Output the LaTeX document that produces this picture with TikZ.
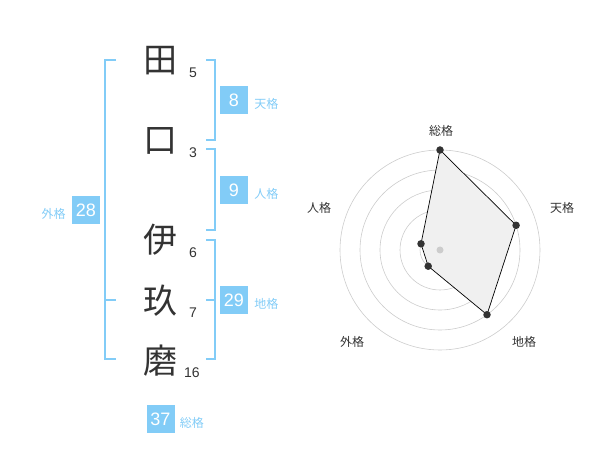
\documentclass[tikz,border=0pt]{standalone}
\usepackage{fontspec}
\setmainfont{Liberation Sans}
\newfontfamily\jp{Noto Sans CJK JP}
\usetikzlibrary{positioning}
\definecolor{kblue}{HTML}{82CCF7}
\definecolor{kgray}{HTML}{333333}
\tikzset{
  kanji/.style={text=kgray, font=\jp\fontsize{34}{34}\selectfont, inner sep=0pt},
  kaku/.style={text=kgray, font=\fontsize{14}{14}\selectfont, inner sep=0pt},
  numbox/.style={fill=kblue, text=white, minimum size=28pt, inner sep=0pt, font=\fontsize{18}{18}\selectfont},
  bluelabel/.style={text=kblue, font=\jp\fontsize{12}{12}\selectfont, inner sep=0pt, yshift=-4pt},
  bracket/.style={draw=kblue, line width=1.8pt},
  ring/.style={draw=black!20, line width=0.6pt},
  axislabel/.style={text=kgray, font=\jp\fontsize{12}{12}\selectfont, inner sep=0pt},
  dot/.style={circle, fill=kgray, inner sep=0pt, minimum size=7.5pt},
}
\begin{document}
\begin{tikzpicture}[x=1pt, y=-1pt]
        \useasboundingbox (0, 0) rectangle (600, 470);
        \node [kanji] (K1) at (160, 61)  {田};
        \node [kanji] (K2) at (160, 141) {口};
        \node [kanji] (K3) at (160, 240) {伊};
        \node [kanji] (K4) at (160, 301) {玖};
        \node [kanji] (K5) at (160, 361) {磨};
        \node [kaku] (N1) at (193, 73)  {5};
        \node [kaku] (N2) at (193, 153) {3};
        \node [kaku] (N3) at (193, 253) {6};
        \node [kaku] (N4) at (193, 313) {7};
        \node [kaku] (N5) at (192, 373) {16};
        \draw [bracket] (116, 60) -- (105, 60) -- (105, 359) -- (116, 359);
        \draw [bracket] (105, 300) -- (116, 300);
        \draw [bracket] (206, 60) -- (215, 60) -- (215, 140) -- (206, 140);
        \draw [bracket] (206, 149) -- (215, 149) -- (215, 230) -- (206, 230);
        \draw [bracket] (206, 240) -- (215, 240) -- (215, 359) -- (206, 359);
        \draw [bracket] (206, 300) -- (215, 300);
        \node [numbox] (TEN)  at (234, 100) {8};
        \node [numbox] (JIN)  at (234, 190) {9};
        \node [numbox] (CHI)  at (234, 300) {29};
        \node [numbox] (GAI)  at (86, 210)  {28};
        \node [numbox] (SOU)  at (160.5, 419) {37};
        \node [bluelabel, right=6pt of TEN] {天格};
        \node [bluelabel, right=6pt of JIN] {人格};
        \node [bluelabel, right=6pt of CHI] {地格};
        \node [bluelabel, left=6pt of GAI]  {外格};
        \node [bluelabel, right=5pt of SOU] {総格};
        \foreach \r in {20, 40, 60, 80, 100}
                \draw [ring] (440, 250) circle (\r pt);
        \coordinate (RS) at (440, 150);
        \coordinate (RT) at (516.1, 225.3);
        \coordinate (RC) at (487.0, 314.7);
        \coordinate (RG) at (428.2, 266.2);
        \coordinate (RJ) at (421.0, 243.8);
        \draw [fill=black!6, line width=0.7pt] (RS) -- (RT) -- (RC) -- (RG) -- (RJ) -- cycle;
        \node [circle, fill=black!20, inner sep=0pt, minimum size=7pt] (O) at (440, 250) {};
        \foreach \p in {RS, RT, RC, RG, RJ}
                \node [dot] at (\p) {};
        \node [axislabel] (AS) at (441, 131) {総格};
        \node [axislabel] (AT) at (562, 208) {天格};
        \node [axislabel] (AC) at (524, 342) {地格};
        \node [axislabel] (AG) at (352, 342) {外格};
        \node [axislabel] (AJ) at (319, 208) {人格};
\end{tikzpicture}
\end{document}
